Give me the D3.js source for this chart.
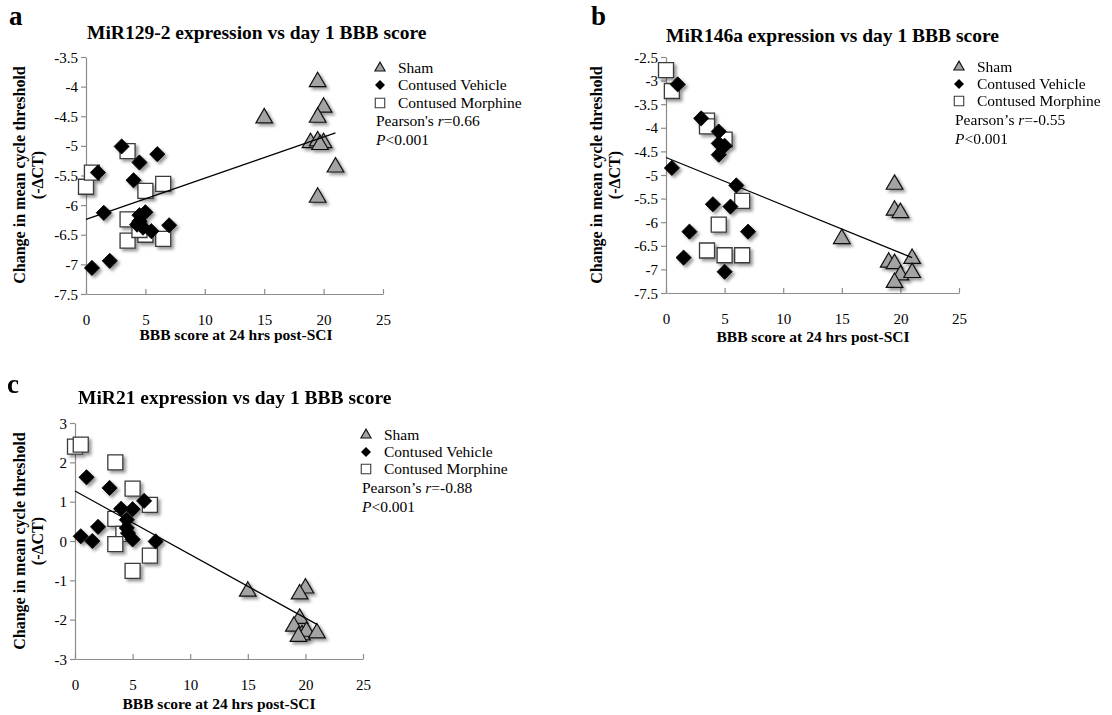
<!DOCTYPE html>
<html><head><meta charset="utf-8">
<script src="https://cdn.jsdelivr.net/npm/d3@7"></script>
<style>
body{margin:0;background:#fff}
svg{display:block}
svg text, svg tspan{font-family:"Liberation Serif","Times New Roman","DejaVu Serif",serif !important;fill:#000}
</style>
</head><body>
<svg id="chart" width="1112" height="715"></svg>
<script>
// ---------- DATA ----------
const xTicks = [0, 5, 10, 15, 20, 25];
const seriesNames = ["Sham", "Contused Vehicle", "Contused Morphine"];

// Panel a: MiR129-2
const aSham = [[19.5,-3.92],[20,-4.35],[19.5,-4.52],[15,-4.53],[18.9,-4.95],[19.5,-4.92],[20,-4.95],[19.7,-4.98],[21,-5.36],[19.5,-5.87]];
const aVehicle = [[3,-5.01],[6,-5.14],[4.5,-5.28],[1,-5.45],[4,-5.58],[1.5,-6.13],[5,-6.12],[4.5,-6.17],[4.5,-6.27],[4.3,-6.33],[4.8,-6.38],[5.5,-6.44],[7,-6.34],[0.5,-7.06],[2,-6.94]];
const aMorphine = [[0,-5.69],[0.5,-5.45],[3.5,-5.09],[5,-5.76],[6.5,-5.64],[3.5,-6.24],[3.5,-6.6],[5,-6.5],[6.5,-6.57],[4.5,-6.42]];
const aTrend = [[0,-6.24],[21,-4.78]];
const aYTicks = [-3.5,-4,-4.5,-5,-5.5,-6,-6.5,-7,-7.5];

// Panel b: MiR146a
const bSham = [[19.5,-5.2],[19.5,-5.75],[20,-5.8],[15,-6.35],[19,-6.85],[19.5,-6.88],[21,-6.77],[20,-7.12],[21,-7.07],[19.5,-7.28]];
const bVehicle = [[1,-3.08],[3,-3.8],[4.5,-4.08],[4.5,-4.33],[5,-4.38],[4.5,-4.57],[0.5,-4.85],[6,-5.22],[4,-5.62],[5.5,-5.67],[2,-6.2],[7,-6.2],[1.5,-6.75],[5,-7.05]];
const bMorphine = [[0,-2.78],[0.5,-3.22],[3.5,-3.85],[3.5,-3.97],[5,-4.25],[6.5,-5.55],[4.5,-6.05],[3.5,-6.6],[5,-6.7],[6.5,-6.7]];
const bTrend = [[0,-4.63],[21,-6.75]];
const bYTicks = [-2.5,-3,-3.5,-4,-4.5,-5,-5.5,-6,-6.5,-7,-7.5];

// Panel c: MiR21
const cSham = [[15,-1.28],[20,-1.2],[19.5,-1.35],[19.5,-1.97],[19,-2.17],[19.7,-2.39],[20.1,-2.3],[21,-2.34],[19.4,-2.43]];
const cVehicle = [[1,1.62],[3,1.35],[6,1.02],[4,0.82],[5,0.81],[4.5,0.54],[4.5,0.33],[4.6,0.2],[2,0.36],[0.5,0.12],[1.5,0.0],[5,0.04],[7,-0.01]];
const cMorphine = [[0,2.4],[0.5,2.45],[3.5,2.0],[5,1.33],[6.5,0.92],[3.5,0.56],[4.2,0.18],[3.5,-0.08],[6.5,-0.37],[5,-0.76]];
const cTrend = [[0,1.27],[21,-2.12]];
const cYTicks = [3,2,1,0,-1,-2,-3];

// ---------- LAYOUT ----------
const FONT = '"Liberation Serif","Times New Roman","DejaVu Serif",serif';
const panels = [
  {letter:"a", lx:9, ly:25, title:"MiR129-2 expression vs day 1 BBB score", tx:87, ty:39,
   x0:86, x1:383, yTop:57, yBot:294, yDom:[-7.5,-3.5], yTicks:aYTicks,
   sham:aSham, veh:aVehicle, mor:aMorphine, trend:aTrend,
   ylabX:25, ylabY:175, xlabX:236, xlabY:340,
   legX:376, legY:[68,85,103,121,140], r:"0.66", apos:"'"},
  {letter:"b", lx:591, ly:25, title:"MiR146a expression vs day 1 BBB score", tx:666, ty:42,
   x0:666, x1:959, yTop:57, yBot:293, yDom:[-7.5,-2.5], yTicks:bYTicks,
   sham:bSham, veh:bVehicle, mor:bMorphine, trend:bTrend,
   ylabX:602, ylabY:175, xlabX:813, xlabY:342,
   legX:955, legY:[67,84,101,120,139], r:"-0.55", apos:"\u2019"},
  {letter:"c", lx:7, ly:393, title:"MiR21 expression vs day 1 BBB score", tx:78, ty:404,
   x0:75, x1:363, yTop:423, yBot:659, yDom:[-3,3], yTicks:cYTicks,
   sham:cSham, veh:cVehicle, mor:cMorphine, trend:cTrend,
   ylabX:25, ylabY:541, xlabX:219, xlabY:709,
   legX:362, legY:[435,452,469,488,507], r:"-0.88", apos:"\u2019"}
];

const svg = d3.select("#chart").style("font-family", FONT);
const defs = svg.append("defs");
const f = defs.append("filter").attr("id","shadow").attr("x","-50%").attr("y","-50%").attr("width","200%").attr("height","200%");
f.append("feDropShadow").attr("dx",2.5).attr("dy",2.5).attr("stdDeviation",1.6)
  .attr("flood-color","#000").attr("flood-opacity",0.4);

const AXIS = "#8c8c8c";
const triPath = d3.symbol().type(d3.symbolTriangle);
const sqPath = d3.symbol().type(d3.symbolSquare);

function txt(sel){ return sel.attr("font-family", FONT).style("font-family", FONT); }

function drawPanel(p){
  const g = svg.append("g");
  const x = d3.scaleLinear().domain([0,25]).range([p.x0,p.x1]);
  const y = d3.scaleLinear().domain(p.yDom).range([p.yBot,p.yTop]);

  // letter + title
  txt(g.append("text")).attr("x",p.lx).attr("y",p.ly).attr("font-size",27).attr("font-weight","bold").text(p.letter);
  txt(g.append("text")).attr("x",p.tx).attr("y",p.ty).attr("font-size",19.5).attr("font-weight","bold").text(p.title);

  // axes
  const ya = g.append("g").attr("transform",`translate(${p.x0},0)`)
    .call(d3.axisLeft(y).tickValues(p.yTicks).tickFormat(d=>String(d)).tickSizeInner(5).tickSizeOuter(0).tickPadding(3));
  const xa = g.append("g").attr("transform",`translate(0,${p.yBot})`)
    .call(d3.axisBottom(x).tickValues(xTicks).tickSizeInner(-5).tickSizeOuter(0).tickPadding(20));
  [ya,xa].forEach(a=>{
    a.attr("font-family", FONT);
    a.selectAll("path").attr("stroke",AXIS).attr("stroke-width",1.2);
    a.selectAll("line").attr("stroke",AXIS).attr("stroke-width",1.2);
    txt(a.selectAll("text")).attr("font-size",15).attr("fill","#000");
  });
  ya.selectAll("text").attr("dy","0.34em");

  // axis labels
  const yl = txt(g.append("text")).attr("transform",`translate(${p.ylabX},${p.ylabY}) rotate(-90)`)
    .attr("text-anchor","middle").attr("font-size",16).attr("font-weight","bold");
  yl.append("tspan").attr("x",0).attr("y",0).text("Change in mean cycle threshold");
  yl.append("tspan").attr("x",0).attr("y",18).text("(-\u0394CT)");
  txt(g.append("text")).attr("x",p.xlabX).attr("y",p.xlabY).attr("text-anchor","middle")
    .attr("font-size",15.5).attr("font-weight","bold").text("BBB score at 24 hrs post-SCI");

  // markers
  const m = g.append("g").attr("filter","url(#shadow)");
  m.selectAll("path.mor").data(p.mor).join("path").attr("class","mor")
    .attr("d",sqPath.size(225)()).attr("transform",d=>`translate(${x(d[0])},${y(d[1])})`)
    .attr("fill","#fff").attr("stroke","#3a3a3a").attr("stroke-width",1.3);
  m.selectAll("path.veh").data(p.veh).join("path").attr("class","veh")
    .attr("d",sqPath.size(115)()).attr("transform",d=>`translate(${x(d[0])},${y(d[1])}) rotate(45)`)
    .attr("fill","#000").attr("stroke","#000").attr("stroke-width",0.8);
  m.selectAll("path.sham").data(p.sham).join("path").attr("class","sham")
    .attr("d",triPath.size(120)()).attr("transform",d=>`translate(${x(d[0])},${y(d[1])})`)
    .attr("fill","#a3a3a3").attr("stroke","#111").attr("stroke-width",1.2);

  // trendline
  g.append("path").datum(p.trend)
    .attr("d",d3.line().x(d=>x(d[0])).y(d=>y(d[1])))
    .attr("stroke","#000").attr("stroke-width",1.2).attr("fill","none");

  // legend
  const lg = g.append("g");
  const sx = p.legX + 4, txx = p.legX + 22;
  lg.append("path").attr("d",triPath.size(45)()).attr("transform",`translate(${sx},${p.legY[0]})`)
    .attr("fill","#a3a3a3").attr("stroke","#111").attr("stroke-width",1.1);
  lg.append("path").attr("d",sqPath.size(50)()).attr("transform",`translate(${sx},${p.legY[1]}) rotate(45)`)
    .attr("fill","#000");
  lg.append("path").attr("d",sqPath.size(90)()).attr("transform",`translate(${sx},${p.legY[2]})`)
    .attr("fill","#fff").attr("stroke","#3a3a3a").attr("stroke-width",1.1);
  seriesNames.forEach((n,i)=>{
    txt(lg.append("text")).attr("x",txx).attr("y",p.legY[i]).attr("dy","0.35em").attr("font-size",15.5).text(n);
  });
  const t1 = txt(lg.append("text")).attr("x",p.legX).attr("y",p.legY[3]).attr("dy","0.35em").attr("font-size",15.5);
  t1.append("tspan").text("Pearson"+p.apos+"s ");
  t1.append("tspan").attr("font-style","italic").text("r");
  t1.append("tspan").text("="+p.r);
  const t2 = txt(lg.append("text")).attr("x",p.legX).attr("y",p.legY[4]).attr("dy","0.35em").attr("font-size",15.5);
  t2.append("tspan").attr("font-style","italic").text("P");
  t2.append("tspan").text("<0.001");
}
panels.forEach(drawPanel);
</script>
</body></html>
